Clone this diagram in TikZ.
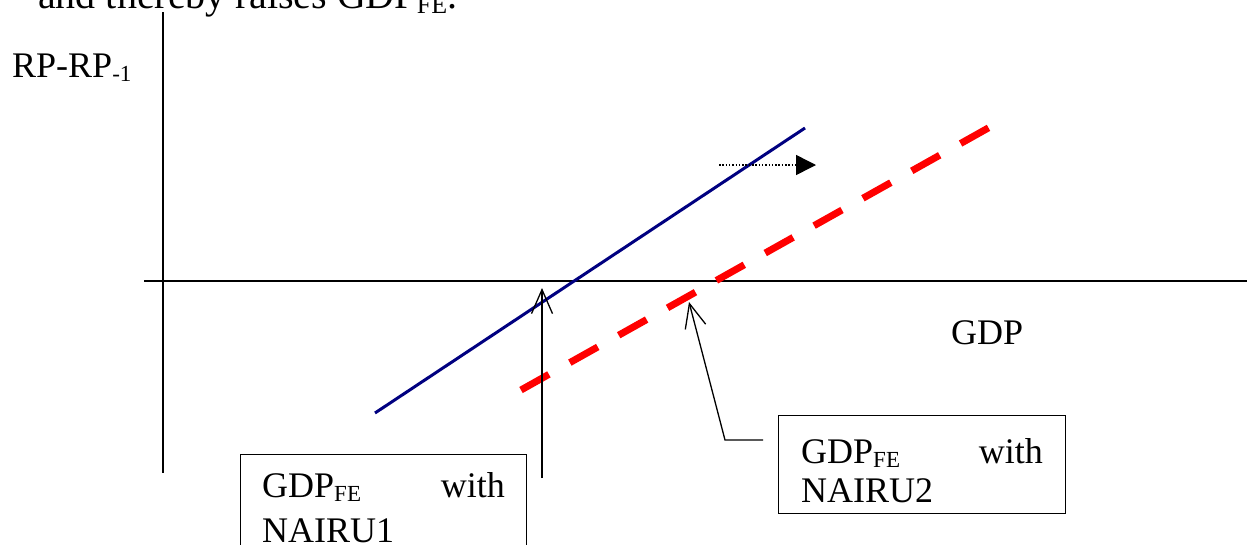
\documentclass[tikz,border=0pt]{standalone}
\usepackage{fontspec}
\setmainfont{Liberation Serif}
\usetikzlibrary{arrows.meta}
\definecolor{navyline}{RGB}{0,0,128}
\definecolor{redline}{RGB}{255,0,0}
\newcommand{\mysub}[1]{\raisebox{-4.5pt}{\fontsize{23}{23}\selectfont #1}}
\tikzset{
  lbl/.style={inner sep=0pt, anchor=base west, font=\fontsize{36}{40}\selectfont},
  axisline/.style={line width=1.5pt, black},
  boxframe/.style={draw, line width=1.3pt, inner sep=0pt, anchor=north west},
  pointer/.style={line width=1.3pt, -{Straight Barb[length=24pt,width=21pt,line width=1.3pt]}},
  shiftarrow/.style={line width=1.5pt, dash pattern=on 1.5pt off 1.8pt, -{Triangle[length=20pt,width=20pt]}},
  curveA/.style={line width=3pt, navyline},
  curveB/.style={line width=7pt, redline, dash pattern=on 32pt off 24pt},
}
\begin{document}
\begin{tikzpicture}[x=1pt,y=-1pt]
\useasboundingbox (0,0) rectangle (1247,544);
% cut-off heading line
\node[lbl, font=\fontsize{40}{44}\selectfont] (head) at (38,8) {and thereby raises GDP\raisebox{-5pt}{\fontsize{26}{26}\selectfont FE}.};
% axes
\coordinate (ytop) at (163,12);
\coordinate (ybot) at (163,473);
\coordinate (xleft) at (144,281);
\coordinate (xright) at (1247,281);
\draw[axisline] (ytop) -- (ybot);
\draw[axisline] (xleft) -- (xright);
\node[lbl] (ylab) at (12,77) {RP-RP\mysub{-1}};
\node[lbl] (xlab) at (951,344) {GDP};
% curves
\coordinate (a1) at (375,413);
\coordinate (a2) at (805,128);
\draw[curveA] (a1) -- (a2);
\coordinate (b1) at (521,390);
\coordinate (b2) at (990,127);
\draw[curveB] (b1) -- (b2);
% shift arrow
\coordinate (s1) at (719,165);
\coordinate (s2) at (816,165);
\draw[shiftarrow] (s1) -- (s2);
% box 1
\node[boxframe, minimum width=286pt, minimum height=110pt] (box1) at (240,454) {};
\node[lbl] (b1t1) at (262,497) {GDP\mysub{FE}};
\node[lbl, anchor=base east] (b1t2) at (505,497) {with};
\node[lbl] (b1t3) at (262,542) {NAIRU1};
% box 2
\node[boxframe, minimum width=287pt, minimum height=98pt] (box2) at (778,415) {};
\node[lbl] (b2t1) at (801,463) {GDP\mysub{FE}};
\node[lbl, anchor=base east] (b2t2) at (1043,463) {with};
\node[lbl] (b2t3) at (801,502) {NAIRU2};
% pointers
\coordinate (p1s) at (542,478);
\coordinate (p1e) at (542,288);
\draw[pointer] (p1s) -- (p1e);
\coordinate (p2s) at (763,440);
\coordinate (p2k) at (725,440);
\coordinate (p2e) at (689,302);
\draw[pointer] (p2s) -- (p2k) -- (p2e);
\end{tikzpicture}
\end{document}
